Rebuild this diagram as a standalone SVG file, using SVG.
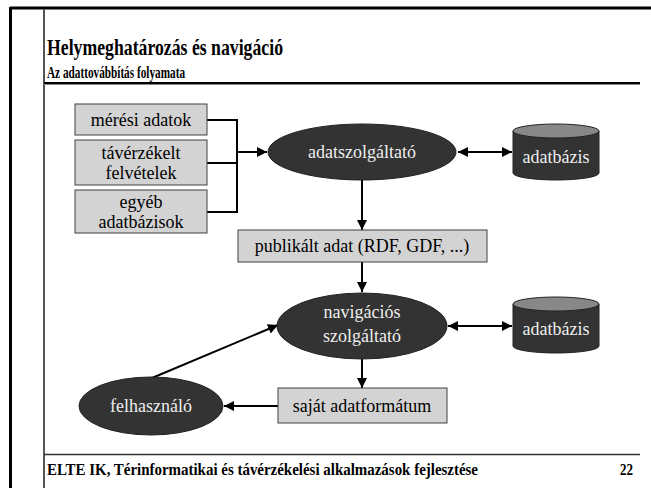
<svg xmlns="http://www.w3.org/2000/svg" width="651" height="488" viewBox="0 0 651 488">
<defs>
<style>
text{font-family:"Liberation Serif","Times New Roman",serif;}
.box{fill:#d3d3d3;stroke:#404040;stroke-width:1;}
.ell{fill:#333333;stroke:#222;stroke-width:1;}
.bt{font-size:18px;fill:#000;text-anchor:middle;}
.et{font-size:18px;fill:#eeeeee;text-anchor:middle;}
.cn{stroke:#000;stroke-width:2;fill:none;}
.hd{font-weight:bold;fill:#000;}
</style>
<marker id="ah" viewBox="0 0 10 10" refX="10" refY="5" markerWidth="10" markerHeight="10" markerUnits="userSpaceOnUse" orient="auto-start-reverse">
<path d="M0,0 L10,5 L0,10 z" fill="#000"/>
</marker>
</defs>
<rect width="651" height="488" fill="#fff"/>
<g id="frame">
<line x1="10" y1="8" x2="651" y2="8" stroke="#000" stroke-width="3"/>
<line x1="10.5" y1="7" x2="10.5" y2="488" stroke="#000" stroke-width="3"/>
<line x1="44" y1="9" x2="44" y2="488" stroke="#555" stroke-width="2"/>
<line x1="44" y1="83" x2="640" y2="83" stroke="#000" stroke-width="2"/>
<line x1="44" y1="84.5" x2="640" y2="84.5" stroke="#888" stroke-width="1"/>
<line x1="44" y1="454.5" x2="640" y2="454.5" stroke="#333" stroke-width="1.5"/>
</g>
<g id="header">
<text class="hd" x="47" y="55" font-size="23" textLength="236" lengthAdjust="spacingAndGlyphs">Helymeghatározás és navigáció</text>
<text class="hd" x="47" y="78" font-size="17" textLength="138" lengthAdjust="spacingAndGlyphs">Az adattovábbítás folyamata</text>
</g>
<g id="footer">
<text class="hd" x="47" y="475" font-size="16" textLength="431" lengthAdjust="spacingAndGlyphs">ELTE IK, Térinformatikai és távérzékelési alkalmazások fejlesztése</text>
<text class="hd" x="633" y="475" font-size="16" text-anchor="end" textLength="13" lengthAdjust="spacingAndGlyphs">22</text>
</g>
<g id="connectors">
<polyline class="cn" points="207,120 237,120 237,212 207,212"/>
<line class="cn" x1="207" y1="163" x2="237" y2="163"/>
<line class="cn" x1="237" y1="152" x2="267" y2="152" marker-end="url(#ah)"/>
<line class="cn" x1="458" y1="152" x2="512" y2="152" marker-start="url(#ah)" marker-end="url(#ah)"/>
<line class="cn" x1="362" y1="180" x2="362" y2="230" marker-end="url(#ah)"/>
<line class="cn" x1="362" y1="262" x2="362" y2="292" marker-end="url(#ah)"/>
<line class="cn" x1="448" y1="326" x2="512" y2="326" marker-start="url(#ah)" marker-end="url(#ah)"/>
<line class="cn" x1="362" y1="359" x2="362" y2="388" marker-end="url(#ah)"/>
<line class="cn" x1="278" y1="406" x2="224" y2="406" marker-end="url(#ah)"/>
<line class="cn" x1="152" y1="378" x2="278" y2="325" marker-end="url(#ah)"/>
</g>
<g id="meresi">
<rect class="box" x="75" y="104" width="132" height="31"/>
<text class="bt" x="141" y="126">mérési adatok</text>
</g>
<g id="taverzekelt">
<rect class="box" x="75" y="140" width="132" height="45"/>
<text class="bt" x="141" y="159">távérzékelt</text>
<text class="bt" x="141" y="179">felvételek</text>
</g>
<g id="egyeb">
<rect class="box" x="75" y="190" width="132" height="43"/>
<text class="bt" x="141" y="208">egyéb</text>
<text class="bt" x="141" y="228">adatbázisok</text>
</g>
<g id="adatszolgaltato">
<ellipse class="ell" cx="362" cy="152" rx="94" ry="28"/>
<text class="et" x="362" y="158">adatszolgáltató</text>
</g>
<g id="adatbazis1">
<path d="M513,131 L513,173 A43,7 0 0 0 599,173 L599,131" fill="#333" stroke="#222"/>
<ellipse cx="556" cy="131" rx="43" ry="7" fill="#888" stroke="#222"/>
<text class="et" x="556" y="163">adatbázis</text>
</g>
<g id="publikalt">
<rect class="box" x="238" y="230" width="249" height="32"/>
<text class="bt" x="362" y="252">publikált adat (RDF, GDF, ...)</text>
</g>
<g id="navigacios">
<ellipse class="ell" cx="362" cy="326" rx="85" ry="33"/>
<text class="et" x="362" y="318">navigációs</text>
<text class="et" x="362" y="342">szolgáltató</text>
</g>
<g id="adatbazis2">
<path d="M513,304 L513,346 A43,7 0 0 0 599,346 L599,304" fill="#333" stroke="#222"/>
<ellipse cx="556" cy="304" rx="43" ry="7" fill="#888" stroke="#222"/>
<text class="et" x="556" y="335">adatbázis</text>
</g>
<g id="sajat">
<rect class="box" x="278" y="388" width="169" height="35"/>
<text class="bt" x="362" y="412">saját adatformátum</text>
</g>
<g id="felhasznalo">
<ellipse class="ell" cx="151" cy="406" rx="72" ry="29"/>
<text class="et" x="151" y="412">felhasználó</text>
</g>
</svg>
